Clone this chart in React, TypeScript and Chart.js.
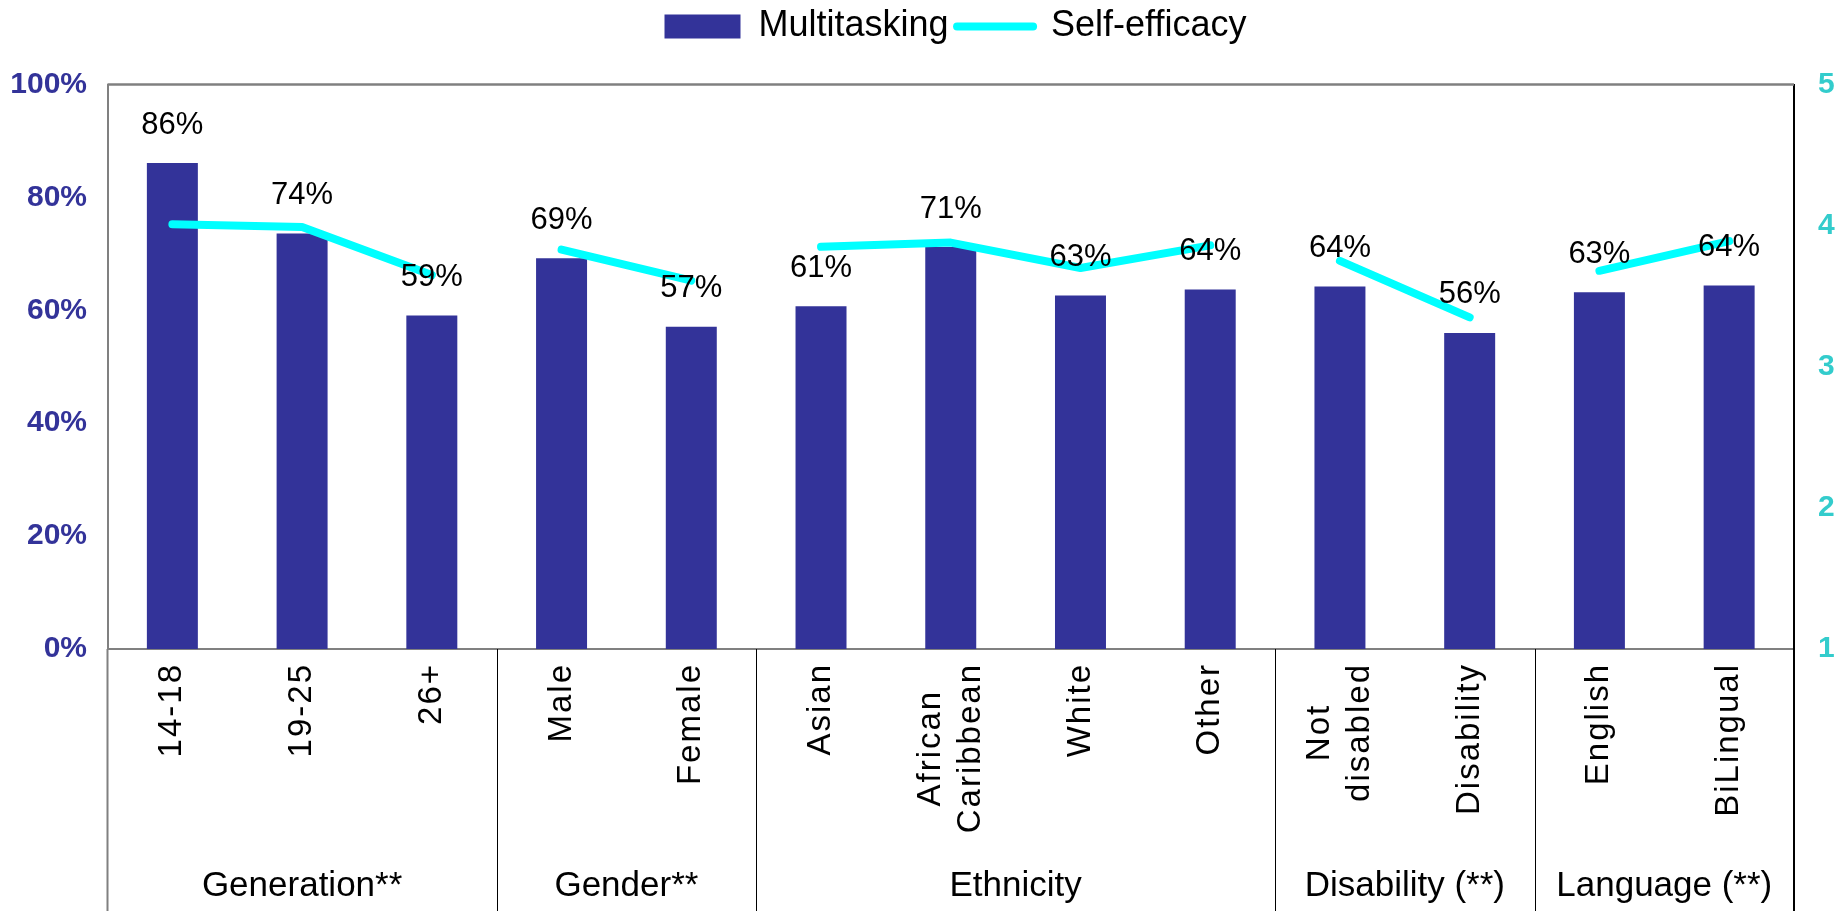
import React, { useEffect, useRef } from 'react';
import { Chart, registerables } from 'chart.js';

Chart.register(...registerables);

// ---- data ----
const categories: string[][] = [
  ['14-18'], ['19-25'], ['26+'],
  ['Male'], ['Female'],
  ['Asian'], ['African', 'Caribbean'], ['White'], ['Other'],
  ['Not', 'disabled'], ['Disability'],
  ['English'], ['BiLingual'],
];
const groups = ['Generation**', 'Gender**', 'Ethnicity', 'Disability (**)', 'Language (**)'];
const groupSizes = [3, 2, 4, 2, 2];
const multitasking = [86.1, 73.6, 59.1, 69.2, 57.1, 60.7, 71.2, 62.6, 63.7, 64.2, 56.0, 63.2, 64.4];
const selfEfficacy = [4.01, 3.99, 3.65, 3.83, 3.61, 3.85, 3.88, 3.70, 3.86, 3.75, 3.35, 3.68, 3.89];
const leftTicks = [0, 20, 40, 60, 80, 100];
const rightTicks = [1, 2, 3, 4, 5];

const BAR = '#333399';
const LINE = '#00FFFF';
const RIGHT_AXIS = '#33CCCC';
const FONT = '"Liberation Sans", Arial, Helvetica, sans-serif';

const groupEnds = new Set<number>();
{
  let acc = 0;
  groupSizes.forEach((n) => {
    acc += n;
    groupEnds.add(acc - 1);
  });
}

const decorPlugin = {
  id: 'decor',
  afterLayout(chart: any) {
    // centre the legend over the plot area like the reference
    if (chart.legend) chart.legend.left += 70;
  },
  afterDatasetsDraw(chart: any) {
    const { ctx } = chart;
    const meta = chart.getDatasetMeta(0);
    ctx.save();
    ctx.font = `31px ${FONT}`;
    ctx.fillStyle = '#000';
    ctx.textAlign = 'center';
    ctx.textBaseline = 'middle';
    meta.data.forEach((el: any, i: number) => {
      ctx.fillText(`${Math.round(multitasking[i])}%`, el.x, el.y - 38);
    });
    ctx.restore();
  },
  afterDraw(chart: any) {
    const { ctx, chartArea } = chart;
    const xs = chart.scales.x;
    const half = (xs.getPixelForValue(1) - xs.getPixelForValue(0)) / 2;
    const H = chart.height;
    ctx.save();
    // top border of plot area
    ctx.strokeStyle = '#808080';
    ctx.lineWidth = 2.5;
    ctx.beginPath();
    ctx.moveTo(chartArea.left, chartArea.top);
    ctx.lineTo(chartArea.right, chartArea.top);
    ctx.stroke();

    // category labels
    ctx.font = `33px ${FONT}`;
    ctx.fillStyle = '#000';
    (ctx as any).letterSpacing = '2px';
    categories.forEach((lines, i) => {
      const x = xs.getPixelForValue(i);
      const widths = lines.map((l) => ctx.measureText(l).width);
      const maxW = Math.max(...widths);
      ctx.save();
      ctx.translate(x, chartArea.bottom + 14);
      ctx.rotate(-Math.PI / 2);
      ctx.textAlign = 'center';
      ctx.textBaseline = 'middle';
      lines.forEach((l, j) => {
        const off = (j - (lines.length - 1) / 2) * 40;
        ctx.fillText(l, -maxW / 2, off);
      });
      ctx.restore();
    });
    (ctx as any).letterSpacing = '0px';

    // group labels and separators
    ctx.font = `35px ${FONT}`;
    ctx.textAlign = 'center';
    ctx.textBaseline = 'middle';
    let start = 0;
    const bounds: number[] = [xs.getPixelForValue(0) - half];
    groups.forEach((g, gi) => {
      const end = start + groupSizes[gi] - 1;
      const x1 = xs.getPixelForValue(start) - half;
      const x2 = xs.getPixelForValue(end) + half;
      bounds.push(x2);
      ctx.fillText(g, (x1 + x2) / 2, 886);
      start = end + 1;
    });
    bounds.forEach((bx, bi) => {
      ctx.beginPath();
      if (bi === 0) {
        ctx.strokeStyle = '#808080';
        ctx.lineWidth = 2;
      } else if (bi === bounds.length - 1) {
        ctx.strokeStyle = '#000';
        ctx.lineWidth = 2;
      } else {
        ctx.strokeStyle = '#000';
        ctx.lineWidth = 1;
      }
      const px = bi === 0 || bi === bounds.length - 1 ? bx : Math.round(bx) + 0.5;
      ctx.moveTo(px, chartArea.bottom);
      ctx.lineTo(px, H);
      ctx.stroke();
    });
    ctx.restore();
  },
};

export default function App() {
  const ref = useRef<HTMLCanvasElement | null>(null);

  useEffect(() => {
    if (!ref.current) return;
    Chart.defaults.font.family = FONT;
    const chart = new Chart(ref.current, {
      type: 'bar',
      data: {
        labels: categories.map((c) => c.join(' ')),
        datasets: [
          {
            type: 'bar',
            label: 'Multitasking',
            data: multitasking,
            backgroundColor: BAR,
            borderWidth: 0,
            barPercentage: 0.393,
            categoryPercentage: 1,
            yAxisID: 'y',
            order: 2,
          },
          {
            type: 'line',
            label: 'Self-efficacy',
            data: selfEfficacy,
            borderColor: LINE,
            backgroundColor: LINE,
            borderWidth: 8,
            borderCapStyle: 'round',
            borderJoinStyle: 'round',
            pointRadius: 0,
            pointHoverRadius: 0,
            tension: 0,
            fill: false,
            yAxisID: 'y1',
            order: 1,
            segment: {
              borderColor: (c: any) => (groupEnds.has(c.p0DataIndex) ? 'rgba(0,0,0,0)' : LINE),
            },
          } as any,
        ],
      },
      options: {
        animation: false,
        responsive: true,
        maintainAspectRatio: false,
        devicePixelRatio: 1,
        layout: { padding: 0 },
        plugins: {
          tooltip: { enabled: false },
          legend: {
            position: 'top',
            weight: 3000,
            labels: {
              font: { size: 36, family: FONT },
              color: '#000',
              padding: 8.5,
              usePointStyle: true,
              pointStyleWidth: 76,
              boxHeight: 24,
              sort: (a: any, b: any) => a.datasetIndex - b.datasetIndex,
              generateLabels: (ch: any) =>
                ch.data.datasets.map((ds: any, i: number) => ({
                  text: ds.label,
                  datasetIndex: i,
                  fillStyle: i === 0 ? BAR : LINE,
                  strokeStyle: i === 0 ? BAR : LINE,
                  lineWidth: i === 0 ? 0 : 8,
                  lineCap: 'round',
                  pointStyle: i === 0 ? 'rect' : 'line',
                  hidden: false,
                  fontColor: '#000',
                })),
            },
          } as any,
          title: {
            display: true,
            text: '',
            font: { size: 10, lineHeight: 1 },
            padding: { top: 20, bottom: 0 },
          },
        },
        scales: {
          x: {
            type: 'category',
            offset: true,
            grid: { display: false },
            ticks: { display: false },
            border: { display: true, color: '#808080', width: 2 },
            afterFit: (s: any) => {
              s.height = 262;
            },
          },
          y: {
            position: 'left',
            min: 0,
            max: 100,
            afterBuildTicks: (s: any) => {
              s.ticks = leftTicks.map((v) => ({ value: v }));
            },
            ticks: {
              callback: (v: any) => `${v}%`,
              font: { size: 30, weight: 'bold', family: FONT },
              color: BAR,
              padding: 20.5,
            },
            grid: { display: false, drawTicks: false },
            border: { display: true, color: '#808080', width: 2 },
            afterFit: (s: any) => {
              s.width = 107.5;
            },
          },
          y1: {
            position: 'right',
            min: 1,
            max: 5,
            afterBuildTicks: (s: any) => {
              s.ticks = rightTicks.map((v) => ({ value: v }));
            },
            ticks: {
              font: { size: 30, weight: 'bold', family: FONT },
              color: RIGHT_AXIS,
              padding: 24,
            },
            grid: { display: false, drawTicks: false },
            border: { display: true, color: '#000', width: 2 },
            afterFit: (s: any) => {
              s.width = 47;
            },
          },
        },
      } as any,
      plugins: [decorPlugin],
    });
    return () => chart.destroy();
  }, []);

  return (
    <div
      style={{
        position: 'fixed',
        left: 0,
        top: 0,
        width: 1841,
        height: 911,
        background: '#fff',
      }}
    >
      <canvas ref={ref} />
    </div>
  );
}
